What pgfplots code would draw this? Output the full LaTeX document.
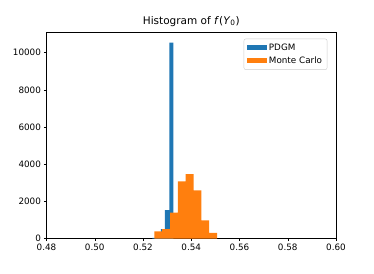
\documentclass[border=0pt]{standalone}
\usepackage{fontspec}
\setmainfont{DejaVu Sans}
\usepackage{pgfplots}
\pgfplotsset{compat=1.18}
\definecolor{mplblue}{HTML}{1F77B4}
\definecolor{mplorange}{HTML}{FF7F0E}
\begin{document}
\fontsize{8.6pt}{10pt}\selectfont
\begin{tikzpicture}
\path[use as bounding box] (0,0) rectangle (374pt,273pt);
\begin{axis}[
  at={(46.5pt,34.5pt)}, anchor=south west,
  scale only axis, width=289.5pt, height=206pt,
  xmin=0.48, xmax=0.60, ymin=0, ymax=11090,
  xtick={0.48,0.50,0.52,0.54,0.56,0.58,0.60},
  ytick={0,2000,4000,6000,8000,10000},
  xticklabel style={/pgf/number format/.cd,fixed,fixed zerofill,precision=2,assume math mode=true},
  yticklabel style={/pgf/number format/.cd,1000 sep={},assume math mode=true},
  scaled x ticks=false, scaled y ticks=false,
  tick align=outside, major tick length=2.5pt,
  xtick pos=bottom, ytick pos=left,
  tick style={black, line width=0.5pt},
  axis line style={black, line width=0.5pt},
  ticklabel style={font=\fontsize{8.8pt}{10pt}\selectfont},
  title={Histogram of \textit{f}(\textit{Y}\textsubscript{0})},
  title style={font=\fontsize{10.5pt}{12pt}\selectfont, yshift=-3pt},
  legend style={at={(0.97,0.97)}, anchor=north east, draw=black!20, rounded corners=2pt,
    font=\fontsize{8.8pt}{10pt}\selectfont, row sep=1pt, inner sep=3pt},
  legend cell align=left,
  area legend,
  legend image code/.code={\fill[#1, sharp corners, draw=none] (0pt,-2.5pt) rectangle (20pt,2.5pt);},
]
\addplot[ybar interval, fill=mplblue, draw=none] coordinates {
  (0.5239,30) (0.5256,40) (0.5274,500) (0.5291,1530) (0.5309,10540) (0.5326,0)
};
\addlegendentry{PDGM}
\addplot[ybar interval, fill=mplorange, draw=none] coordinates {
  (0.52470,390) (0.52795,500) (0.53120,1390) (0.53445,3080) (0.53770,3470)
  (0.54095,2590) (0.54420,980) (0.54745,300) (0.55070,0)
};
\addlegendentry{Monte Carlo}
\end{axis}
\end{tikzpicture}
\end{document}
